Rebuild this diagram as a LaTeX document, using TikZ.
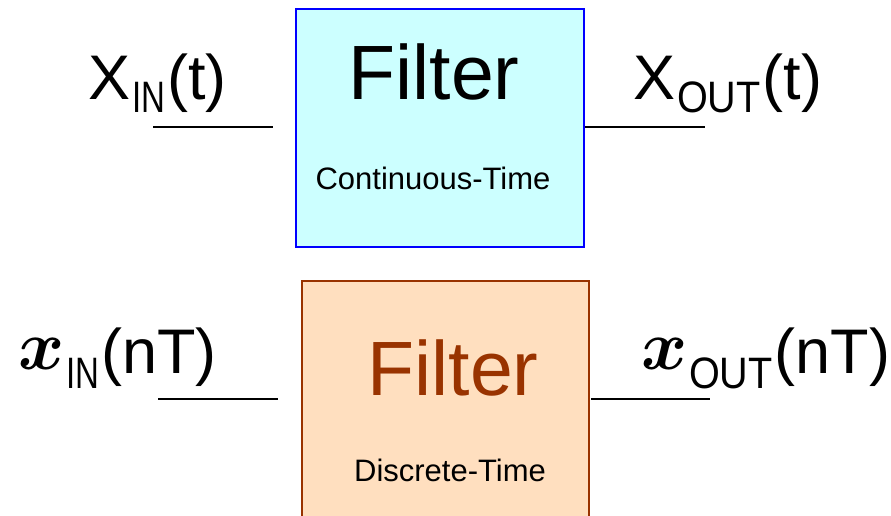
\documentclass[tikz,border=0pt]{standalone}
\usepackage{fontspec}
\setmainfont{Liberation Sans}
\definecolor{ctfill}{HTML}{CCFFFF}
\definecolor{ctdraw}{HTML}{0000FF}
\definecolor{dtfill}{HTML}{FFDFBF}
\definecolor{dtdraw}{HTML}{993300}
\newcommand{\bigtxt}{\fontsize{63}{65}\selectfont}
\newcommand{\subtxt}[3]{\hspace{2pt}\raisebox{-#1pt}{\fontsize{44}{44}\selectfont\scalebox{#2}[1]{#3}}\hspace{2pt}}
\newcommand{\scrx}{\raisebox{4pt}{\scalebox{7.0}{\fontsize{10}{12}\selectfont\boldmath$x$}}}
\begin{document}
\begin{tikzpicture}[x=1pt,y=-1pt,
  every node/.style={inner sep=0pt, outer sep=0pt},
  wire/.style={line width=1.6pt, black},
  ctbox/.style={draw=ctdraw, fill=ctfill, line width=1.6pt, minimum width=288pt, minimum height=238pt},
  dtbox/.style={draw=dtdraw, fill=dtfill, line width=1.6pt, minimum width=287pt, minimum height=279pt},
  title/.style={font=\fontsize{77}{80}\selectfont, anchor=base},
  kind/.style={font=\fontsize{31}{34}\selectfont, anchor=base},
  sig/.style={font=\bigtxt, anchor=base west}
]
\useasboundingbox (0,0) rectangle (891,516);
\clip (0,0) rectangle (891,516);
% continuous-time filter
\node[ctbox] (ct) at (440,128) {};
\node[title] (cttitle) at (434,100) {Filter};
\node[kind] (ctkind) at (433,189) {Continuous-Time};
\node[sig] (xin) at (88,100) {X\subtxt{13}{0.75}{IN}(t)};
\node[sig] (xout) at (633,100) {X\subtxt{13}{0.9}{OUT}(t)};
\coordinate (ctinA) at (153,127);
\coordinate (ctinB) at (273,127);
\coordinate (ctoutA) at (585,127);
\coordinate (ctoutB) at (705,127);
\draw[wire] (ctinA) -- (ctinB);
\draw[wire] (ctoutA) -- (ctoutB);
% discrete-time filter
\node[dtbox] (dt) at (445.5,420.5) {};
\node[title, text=dtdraw] (dttitle) at (453,395) {Filter};
\node[kind] (dtkind) at (450,481) {Discrete-Time};
\node[sig] (din) at (18,373) {\scrx\subtxt{15}{0.75}{IN}(nT)};
\node[sig] (dout) at (641,373) {\scrx\subtxt{15}{0.9}{OUT}(nT)};
\coordinate (dtinA) at (158,399);
\coordinate (dtinB) at (278,399);
\coordinate (dtoutA) at (591,399);
\coordinate (dtoutB) at (710,399);
\draw[wire] (dtinA) -- (dtinB);
\draw[wire] (dtoutA) -- (dtoutB);
\end{tikzpicture}
\end{document}
